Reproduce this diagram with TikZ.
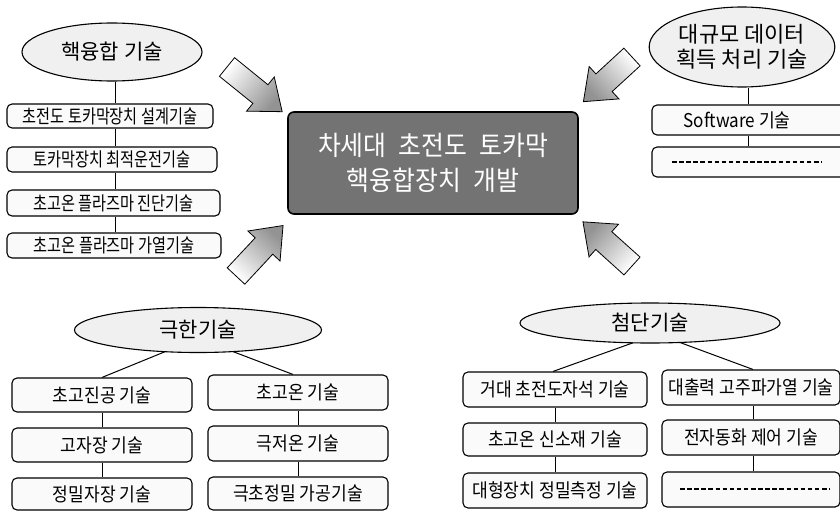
\documentclass[tikz,border=0pt]{standalone}
\usepackage{fontspec}
\newfontfamily\kr[FakeStretch=0.9]{Noto Sans CJK KR}
\newfontfamily\krn[FakeStretch=0.8]{Noto Sans CJK KR}
\newfontfamily\krw{Noto Sans CJK KR}
\newfontfamily\krc[FakeStretch=0.92]{Noto Sans CJK KR}
\usetikzlibrary{shapes.geometric,calc}
\newcommand\blockarrow[4]{%
  \begin{scope}[shift={(#1)}, rotate=#2]
    \shade[bigarrow, shading angle=#4] (0,12) -- ({#3-28},12) -- ({#3-28},22) -- (#3,0) -- ({#3-28},-22) -- ({#3-28},-12) -- (0,-12) -- cycle;
  \end{scope}}
\begin{document}
\begin{tikzpicture}[x=1pt,y=-1pt,
  tbox/.style={draw=black, line width=1.1pt, rounded corners=5pt, fill=gray!4, inner sep=0pt, font=\kr\fontsize{19}{21}\selectfont},
  nbox/.style={tbox, font=\krn\fontsize{19}{21}\selectfont},
  oval/.style={ellipse, draw=black, line width=1.1pt, fill=gray!12, inner sep=0pt, font=\krw\fontsize{21}{25}\selectfont, align=center},
  link/.style={draw=black, line width=1pt},
  dashline/.style={draw=black, line width=1.2pt, dash pattern=on 4.5pt off 2.6pt},
  bigarrow/.style={draw=black, line width=0.8pt, top color=white, bottom color=gray!85}]
\useasboundingbox (0,0) rectangle (840,511);

% central box
\node[draw=black, line width=1.6pt, rounded corners=6pt, fill=black!55, minimum width=290pt, minimum height=102pt, text=white, inner sep=0pt, align=center, font=\krc\fontsize{27}{35}\selectfont] (core) at (433,163) {차세대\hspace{0.45em}초전도\hspace{0.45em}토카막\\핵융합장치\hspace{0.45em}개발};

% block arrows
\blockarrow{227,67}{-39}{71}{51}
\blockarrow{236,276}{47}{69}{137}
\blockarrow{632,57}{-137.4}{66}{-47.4}
\blockarrow{632,266}{138}{66}{-132}

% top-left group
\node[oval, minimum width=180pt, minimum height=58pt] (e1) at (112,52) {핵융합 기술};
\node[nbox, minimum width=206pt, minimum height=24pt] (a1) at (110,116) {초전도 토카막장치 설계기술};
\node[nbox, minimum width=210pt, minimum height=25pt] (a2) at (112,159.5) {토카막장치 최적운전기술};
\node[nbox, minimum width=213pt, minimum height=26pt] (a3) at (113.5,203) {초고온 플라즈마 진단기술};
\node[nbox, minimum width=214pt, minimum height=25pt] (a4) at (114,245.5) {초고온 플라즈마 가열기술};
\coordinate (va) at (115,0);
\draw[link] (va |- e1.south) -- (va |- a1.north);
\draw[link] (va |- a1.south) -- (va |- a2.north);
\draw[link] (va |- a2.south) -- (va |- a3.north);
\draw[link] (va |- a3.south) -- (va |- a4.north);

% top-right group
\node[oval, minimum width=180pt, minimum height=80pt, font=\krw\fontsize{22}{25}\selectfont] (e2) at (742,47) {대규모 데이터\\획득 처리 기술};
\node[tbox, minimum width=198pt, minimum height=30pt] (s1) at (751,120) {\hspace*{-28pt}Software 기술};
\node[tbox, minimum width=198pt, minimum height=30pt] (s2) at (751,162) {};
\draw[dashline] (672,162) -- (822,162);
\coordinate (vs) at (748,0);
\draw[link] (vs |- e2.south) -- (vs |- s1.north);
\draw[link] (vs |- s1.south) -- (vs |- s2.north);

% bottom-left group
\node[oval, minimum width=247pt, minimum height=45pt] (e3) at (198,330) {극한기술};
\node[tbox, minimum width=180pt, minimum height=34pt] (l1) at (102,395) {초고진공 기술};
\node[tbox, minimum width=180pt, minimum height=34pt] (l2) at (102,445) {고자장 기술};
\node[tbox, minimum width=180pt, minimum height=32pt] (l3) at (102,494) {정밀자장 기술};
\node[tbox, minimum width=180pt, minimum height=35pt] (r1) at (298,392.5) {초고온 기술};
\node[tbox, minimum width=180pt, minimum height=35pt] (r2) at (298,443.5) {극저온 기술};
\node[tbox, minimum width=180pt, minimum height=33pt] (r3) at (298,493.5) {극초정밀 가공기술};
\draw[link] ($(e3.center)+(-33,21.7)$) -- (l1.north);
\draw[link] ($(e3.center)+(35,21.6)$) -- ($(r1.north)+(-5,0)$);
\draw[link] (l1.south) -- (l2.north);
\draw[link] (l2.south) -- (l3.north);
\draw[link] (r1.south) -- (r2.north);
\draw[link] (r2.south) -- (r3.north);

% bottom-right group
\node[oval, minimum width=260pt, minimum height=40pt] (e4) at (650,323) {첨단기술};
\node[tbox, minimum width=184pt, minimum height=35pt] (m1) at (555,389.5) {거대 초전도자석 기술};
\node[tbox, minimum width=184pt, minimum height=33pt] (m2) at (555,439.5) {초고온 신소재 기술};
\node[tbox, minimum width=184pt, minimum height=35pt] (m3) at (555,490.5) {대형장치 정밀측정 기술};
\node[tbox, minimum width=178pt, minimum height=35pt] (n1) at (751,387.5) {대출력 고주파가열 기술};
\node[tbox, minimum width=178pt, minimum height=35pt] (n2) at (751,437.5) {전자동화 제어 기술};
\node[tbox, minimum width=178pt, minimum height=35pt] (n3) at (751,489.5) {};
\draw[dashline] (680,489) -- (830,489);
\draw[link] ($(e4.center)+(-17,19.8)$) -- ($(m1.north)+(-2,0)$);
\draw[link] ($(e4.center)+(30,19.5)$) -- ($(n1.north)+(2,0)$);
\draw[link] (m1.south) -- (m2.north);
\draw[link] (m2.south) -- (m3.north);
\draw[link] ($(n1.south)+(2,0)$) -- ($(n2.north)+(2,0)$);
\draw[link] ($(n2.south)+(2,0)$) -- ($(n3.north)+(2,0)$);
\end{tikzpicture}
\end{document}
